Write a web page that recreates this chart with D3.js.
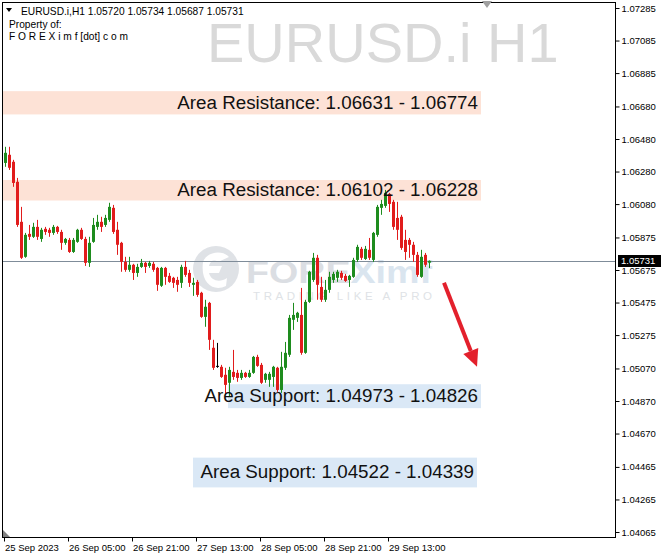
<!DOCTYPE html>
<html><head><meta charset="utf-8">
<script src="https://cdn.jsdelivr.net/npm/d3@7"></script>
<style>body{margin:0;background:#fff}svg{display:block}</style>
</head><body><svg id="chart" width="664" height="560"></svg>
<script>
// EURUSD.i hourly candles, 25 Sep 13:00 .. 29 Sep 23:00
const symbol = "EURUSD.i";
const timeframe = "H1";
const open = [1.06333,1.06383,1.06340,1.06217,1.05971,1.05756,1.05897,1.05879,1.05940,1.05866,1.05928,1.05922,1.05903,1.05940,1.05909,1.05842,1.05860,1.05786,1.05848,1.05922,1.05866,1.05719,1.05848,1.05940,1.05971,1.05952,1.05983,1.06057,1.05922,1.05842,1.05725,1.05676,1.05707,1.05657,1.05694,1.05719,1.05700,1.05713,1.05688,1.05578,1.05688,1.05639,1.05627,1.05614,1.05596,1.05694,1.05657,1.05584,1.05602,1.05535,1.05387,1.05473,1.05197,1.05086,1.05080,1.05031,1.04982,1.05049,1.05043,1.05012,1.05043,1.05018,1.05043,1.05141,1.05092,1.05000,1.05000,1.05018,1.05074,1.04938,1.05074,1.05154,1.05369,1.05381,1.05399,1.05166,1.05479,1.05614,1.05750,1.05571,1.05492,1.05553,1.05614,1.05627,1.05657,1.05639,1.05614,1.05633,1.05737,1.05805,1.05743,1.05799,1.05737,1.05891,1.06057,1.06069,1.06143,1.06094,1.05995,1.06002,1.05860,1.05860,1.05830,1.05768,1.05633,1.05768,1.05720];
const high = [1.06432,1.06432,1.06352,1.06241,1.06063,1.05903,1.05952,1.05965,1.05983,1.05934,1.05940,1.05934,1.05952,1.05946,1.05922,1.05872,1.05872,1.05872,1.05928,1.05934,1.05879,1.05879,1.05995,1.06014,1.06002,1.06014,1.06088,1.06075,1.05971,1.05848,1.05756,1.05756,1.05713,1.05713,1.05743,1.05725,1.05731,1.05725,1.05694,1.05694,1.05694,1.05657,1.05633,1.05633,1.05707,1.05731,1.05676,1.05627,1.05614,1.05541,1.05492,1.05479,1.05246,1.05227,1.05092,1.05074,1.05080,1.05184,1.05061,1.05061,1.05049,1.05061,1.05147,1.05154,1.05104,1.05043,1.05049,1.05086,1.05080,1.05172,1.05233,1.05399,1.05473,1.05418,1.05565,1.05492,1.05670,1.05780,1.05768,1.05633,1.05614,1.05664,1.05664,1.05676,1.05670,1.05651,1.05645,1.05750,1.05830,1.05817,1.05823,1.05872,1.05909,1.06075,1.06106,1.06167,1.06149,1.06106,1.06094,1.06014,1.05922,1.05872,1.05848,1.05786,1.05799,1.05780,1.05734];
const low = [1.06309,1.06290,1.06186,1.05940,1.05743,1.05750,1.05860,1.05872,1.05860,1.05848,1.05891,1.05879,1.05891,1.05897,1.05799,1.05830,1.05780,1.05780,1.05842,1.05860,1.05700,1.05694,1.05842,1.05922,1.05909,1.05940,1.05971,1.05897,1.05768,1.05664,1.05664,1.05664,1.05614,1.05633,1.05688,1.05657,1.05688,1.05664,1.05547,1.05571,1.05584,1.05596,1.05565,1.05541,1.05565,1.05633,1.05571,1.05516,1.05510,1.05381,1.05326,1.05184,1.05061,1.05074,1.05012,1.04908,1.04895,1.05000,1.04988,1.05000,1.05012,1.05012,1.05037,1.05080,1.04975,1.04982,1.04957,1.04957,1.04926,1.04920,1.05061,1.05141,1.05307,1.05356,1.05154,1.05160,1.05473,1.05602,1.05492,1.05479,1.05479,1.05535,1.05596,1.05602,1.05614,1.05602,1.05571,1.05627,1.05725,1.05737,1.05737,1.05737,1.05725,1.05879,1.06014,1.06057,1.06032,1.05922,1.05860,1.05799,1.05737,1.05750,1.05725,1.05633,1.05627,1.05694,1.05687];
const close = [1.06395,1.06303,1.06210,1.05952,1.05750,1.05891,1.05879,1.05940,1.05879,1.05922,1.05909,1.05903,1.05940,1.05909,1.05842,1.05866,1.05786,1.05860,1.05922,1.05866,1.05719,1.05842,1.05952,1.05971,1.05940,1.05995,1.06063,1.05909,1.05830,1.05725,1.05676,1.05707,1.05657,1.05694,1.05719,1.05694,1.05719,1.05676,1.05584,1.05688,1.05633,1.05602,1.05596,1.05584,1.05694,1.05645,1.05596,1.05596,1.05522,1.05387,1.05449,1.05246,1.05074,1.05086,1.05018,1.04969,1.05061,1.05018,1.05012,1.05043,1.05018,1.05043,1.05141,1.05086,1.04982,1.05037,1.05037,1.05080,1.04938,1.05080,1.05166,1.05381,1.05399,1.05412,1.05166,1.05479,1.05664,1.05750,1.05584,1.05492,1.05553,1.05633,1.05651,1.05664,1.05627,1.05608,1.05639,1.05737,1.05817,1.05750,1.05805,1.05750,1.05903,1.06063,1.06081,1.06149,1.06081,1.05940,1.05922,1.05811,1.05786,1.05830,1.05768,1.05645,1.05756,1.05707,1.05731];

const xTickIndex = [0, 16, 32, 48, 64, 80, 96];
const xTickLabels = ["25 Sep 2023", "26 Sep 05:00", "26 Sep 21:00", "27 Sep 13:00", "28 Sep 05:00", "28 Sep 21:00", "29 Sep 13:00"];
const yTickValues = [1.07285,1.07085,1.06885,1.06680,1.06480,1.06280,1.06080,1.05875,1.05675,1.05475,1.05275,1.05070,1.04870,1.04670,1.04465,1.04265,1.04065];

// Supply / demand zones: label, price pair, bar span
const zoneNames = ["Area Resistance", "Area Resistance", "Area Support", "Area Support"];
const zoneFrom = [1.06631, 1.06102, 1.04973, 1.04522];
const zoneTo = [1.06774, 1.06228, 1.04826, 1.04339];
const zoneStartBar = [-0.5, -0.5, 55.75, 47];
const zoneEndBar = [119, 119, 119, 118];
const zoneKind = ["res", "res", "sup", "sup"];

// Expected move arrow (bar index, price)
const arrowStart = [109.75, 1.05596];
const arrowEnd = [118, 1.05080];

const W = 664, H = 560;
const plot = {left: 2, top: 2, right: 615, bottom: 537};
const svg = d3.select("#chart");
const fmt = d3.format(".5f");
const FONT = "Liberation Sans, Arial, sans-serif";

const x = d3.scaleLinear().domain([0, open.length - 1]).range([5, 429]);
const y = d3.scaleLinear().domain([1.04065, 1.07285]).range([532, 8]);

svg.append("rect").attr("width", W).attr("height", H).attr("fill", "#fff");

const clipId = "plotClip";
svg.append("clipPath").attr("id", clipId).append("rect")
  .attr("x", plot.left).attr("y", plot.top)
  .attr("width", plot.right - plot.left).attr("height", plot.bottom - plot.top);
const g = svg.append("g").attr("clip-path", `url(#${clipId})`);

// Large symbol watermark
g.append("text").attr("x", 207).attr("y", 62)
  .attr("font-family", FONT).attr("font-size", 56)
  .attr("fill", "#d9d9d9").text(`${symbol} ${timeframe}`);

// Zone rectangles
const zones = zoneNames.map((n, i) => ({n, a: zoneFrom[i], b: zoneTo[i], s: zoneStartBar[i], e: zoneEndBar[i], k: zoneKind[i]}));
g.selectAll("rect.zone").data(zones).join("rect").attr("class", "zone")
  .attr("x", d => x(d.s)).attr("width", d => x(d.e) - x(d.s))
  .attr("y", d => y(Math.max(d.a, d.b))).attr("height", d => y(Math.min(d.a, d.b)) - y(Math.max(d.a, d.b)))
  .attr("fill", d => d.k === "res" ? "#fde2d6" : "#dae8f6");

// Brand watermark
const wm = g.append("g").attr("opacity", 0.9);
wm.append("circle").attr("cx", 216).attr("cy", 269).attr("r", 23).attr("fill", "#dcdfe4");
wm.append("path").attr("d", "M203,262 C206,252 222,249 229,257 L218,262 C214,259 210,261 209,266 L222,266 L219,273 L209,273 C211,281 220,283 227,278 L226,286 C214,292 200,284 203,262 Z")
  .attr("fill", "#fff");
wm.append("text").attr("x", 246).attr("y", 283)
  .attr("font-family", FONT).attr("font-weight", "bold").attr("font-size", 31)
  .attr("textLength", 186).attr("lengthAdjust", "spacingAndGlyphs")
  .selectAll("tspan").data([["FORE", "#d8dbe0"], ["Ximf", "#d6e3ee"]]).join("tspan")
  .attr("fill", d => d[1]).text(d => d[0]);
wm.append("text").attr("x", 253).attr("y", 300)
  .attr("font-family", FONT).attr("font-size", 11.5)
  .attr("textLength", 179).attr("lengthAdjust", "spacing")
  .attr("fill", "#dcdfe4").text("TRADING LIKE A PRO");

// Current price line
const last = open.length - 1;
g.append("line").attr("x1", plot.left).attr("x2", plot.right)
  .attr("y1", Math.round(y(close[last])) + 0.5).attr("y2", Math.round(y(close[last])) + 0.5)
  .attr("stroke", "#7f8c99").attr("stroke-width", 1);

// Candles
const bars = open.map((o, i) => ({i, o, h: high[i], l: low[i], c: close[i]}));
const col = d => d.c > d.o ? "#1e8c1e" : d.c < d.o ? "#e11c1c" : "#000";
const cg = g.append("g");
cg.selectAll("line.wick").data(bars).join("line").attr("class", "wick")
  .attr("x1", d => Math.round(x(d.i)) + 0.5).attr("x2", d => Math.round(x(d.i)) + 0.5)
  .attr("y1", d => y(d.h)).attr("y2", d => y(d.l))
  .attr("stroke", col).attr("stroke-width", 1);
cg.selectAll("rect.body").data(bars).join("rect").attr("class", "body")
  .attr("x", d => Math.round(x(d.i)) - 1).attr("width", 3)
  .attr("y", d => y(Math.max(d.o, d.c)))
  .attr("height", d => Math.max(1, y(Math.min(d.o, d.c)) - y(Math.max(d.o, d.c))))
  .attr("fill", col);

// Zone captions
g.selectAll("text.zone").data(zones).join("text").attr("class", "zone")
  .attr("x", d => x(d.e) - 3)
  .attr("y", d => (y(d.a) + y(d.b)) / 2 + 1)
  .attr("text-anchor", "end").attr("dominant-baseline", "middle")
  .attr("font-family", FONT).attr("font-size", 18.8)
  .attr("fill", "#111")
  .text(d => `${d.n}: ${fmt(d.a)} - ${fmt(d.b)}`);

// Arrow
const ax1 = x(arrowStart[0]), ay1 = y(arrowStart[1]), ax2 = x(arrowEnd[0]), ay2 = y(arrowEnd[1]);
const ang = Math.atan2(ay2 - ay1, ax2 - ax1);
const headLen = 17, headW = 8;
const bx = ax2 - headLen * Math.cos(ang), by = ay2 - headLen * Math.sin(ang);
g.append("line").attr("x1", ax1).attr("y1", ay1).attr("x2", bx).attr("y2", by)
  .attr("stroke", "#e3202c").attr("stroke-width", 4);
g.append("path").attr("fill", "#e3202c")
  .attr("d", `M${ax2},${ay2} L${bx + headW * Math.sin(ang)},${by - headW * Math.cos(ang)} L${bx - headW * Math.sin(ang)},${by + headW * Math.cos(ang)} Z`);

// Frame
svg.append("rect").attr("x", plot.left + 0.5).attr("y", plot.top + 0.5)
  .attr("width", plot.right - plot.left).attr("height", plot.bottom - plot.top)
  .attr("fill", "none").attr("stroke", "#000");

// Right price axis
const yAxis = d3.axisRight(y).tickValues(yTickValues).tickSize(4).tickPadding(2).tickFormat(fmt);
const ya = svg.append("g").attr("transform", `translate(${plot.right + 0.5},0)`).call(yAxis);
ya.select(".domain").remove();
ya.selectAll("text").attr("font-family", FONT).attr("font-size", 9.5).attr("fill", "#000");
ya.selectAll("line").attr("stroke", "#000");

// Last price tag
const py = Math.round(y(close[last]));
svg.append("rect").attr("x", plot.right + 3).attr("y", py - 6).attr("width", 43).attr("height", 12).attr("fill", "#000");
svg.append("text").attr("x", plot.right + 6).attr("y", py).attr("dy", "0.35em")
  .attr("font-family", FONT).attr("font-size", 9.5).attr("fill", "#fff")
  .text(fmt(close[last]));

// Bottom time axis
const xa = svg.append("g").attr("transform", `translate(0,${plot.bottom + 0.5})`);
xa.selectAll("line").data(xTickIndex).join("line")
  .attr("x1", d => Math.round(x(d)) - 0.5).attr("x2", d => Math.round(x(d)) - 0.5)
  .attr("y1", 0).attr("y2", 4).attr("stroke", "#000");
xa.selectAll("text").data(xTickIndex).join("text")
  .attr("x", d => Math.round(x(d))).attr("y", 13)
  .attr("font-family", FONT).attr("font-size", 9.5).attr("fill", "#000")
  .text((d, i) => xTickLabels[i]);

// Chart shift markers
svg.append("path").attr("d", "M482,1 L492,1 L487,8 Z").attr("fill", "#a0a0a0");
svg.append("path").attr("d", "M3,530 L3,537 L10,537 Z").attr("fill", "#808080");

// Header
svg.append("path").attr("d", "M6,8 L12,8 L9,12 Z").attr("fill", "#000");
const hdr = svg.append("g").attr("font-family", FONT).attr("font-size", 10.2).attr("fill", "#000");
hdr.append("text").attr("x", 21).attr("y", 15)
  .text(`${symbol},${timeframe}  ${fmt(open[last])} ${fmt(high[last])} ${fmt(low[last])} ${fmt(close[last])}`);
hdr.append("text").attr("x", 9).attr("y", 28).text("Property of:");
hdr.append("text").attr("x", 9).attr("y", 40).text("F O R E X i m f [dot] c o m");
</script>
</body></html>
